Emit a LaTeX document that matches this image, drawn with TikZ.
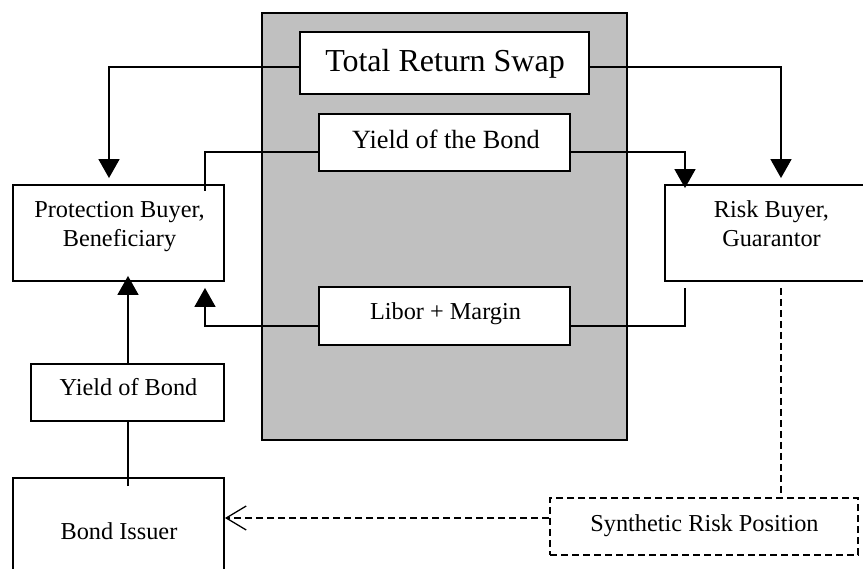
\documentclass[tikz,border=0pt]{standalone}
\usepackage{fontspec}
\setmainfont{Liberation Serif}
\usetikzlibrary{arrows.meta}
\definecolor{panelgray}{RGB}{192,192,192}
\begin{document}
\begin{tikzpicture}[x=1pt,y=-1pt,
  box/.style={draw=black, line width=1.9pt, fill=white, inner sep=0pt},
  lbl/.style={inner sep=0pt, anchor=base, font=\fontsize{24.3}{29}\selectfont},
  link/.style={line width=1.7pt},
  tip/.style={-{Triangle[width=21pt,length=19pt]}},
  dashlink/.style={line width=1.8pt, dash pattern=on 7pt off 4pt},
  barb/.style={-{Straight Barb[length=20pt,width=24pt,line width=1.3pt]}},
]
\useasboundingbox (0,0) rectangle (863,569);
\clip (0,0) rectangle (863,569);

% shaded panel holding the swap legs
\node[box, fill=panelgray, minimum width=365, minimum height=427] (panel) at (444.5,226.5) {};

% boxes
\node[box, minimum width=289, minimum height=62] (trs) at (444.5,63) {};
\node[box, minimum width=251, minimum height=57] (ytb) at (444.5,142.5) {};
\node[box, minimum width=251, minimum height=58] (lm)  at (444.5,316) {};
\node[box, minimum width=211, minimum height=96] (pb)  at (118.5,233) {};
\node[box, minimum width=220, minimum height=96] (rb)  at (775,233) {};
\node[box, minimum width=193, minimum height=57] (yb)  at (127.5,392.5) {};
\node[box, minimum width=211, minimum height=122] (bi) at (118.5,539) {};
\node[box, dashlink, minimum width=308, minimum height=57] (srp) at (704,526.5) {};

% labels
\node[lbl, font=\fontsize{32}{36}\selectfont] (trsT) at (445,72) {Total Return Swap};
\node[lbl, font=\fontsize{26.3}{30}\selectfont] (ytbT) at (446,149) {Yield of the Bond};
\node[lbl] (lmT)  at (445.5,320) {Libor + Margin};
\node[lbl] (pbT1) at (119.5,218) {Protection Buyer,};
\node[lbl] (pbT2) at (119.5,247) {Beneficiary};
\node[lbl] (rbT1) at (771.5,218) {Risk Buyer,};
\node[lbl] (rbT2) at (771.5,247) {Guarantor};
\node[lbl] (ybT)  at (128.5,396) {Yield of Bond};
\node[lbl] (biT)  at (119,539) {Bond Issuer};
\node[lbl] (srpT) at (704.5,531) {Synthetic Risk Position};

% vertical runs of the connectors
\coordinate (xl) at (109,0);
\coordinate (xr) at (781,0);
\coordinate (xa) at (205,0);
\coordinate (xb) at (685,0);
\coordinate (xc) at (128,0);
\coordinate (ys) at (0,518);

% swap legs
\draw[link,tip] ([yshift=-4pt]trs.west) -| ([yshift=6pt]pb.north -| xl);
\draw[link,tip] ([yshift=-4pt]trs.east) -| ([yshift=6pt]rb.north -| xr);
\draw[link] ([yshift=-9.5pt]ytb.west) -| ([yshift=-7pt]pb.north -| xa);
\draw[link,tip] ([yshift=-9.5pt]ytb.east) -| ([yshift=-4pt]rb.north -| xb);
\draw[link,tip] ([yshift=-10pt]lm.west) -| ([yshift=-6pt]pb.south -| xa);
\draw[link] ([yshift=-10pt]lm.east) -| ([yshift=-6pt]rb.south -| xb);

% bond cash flow
\draw[link,tip] (yb.north -| xc) -- ([yshift=6pt]pb.south -| xc);
\draw[link] ([yshift=-9pt]bi.north -| xc) -- (yb.south -| xc);

% synthetic position
\draw[dashlink] ([yshift=-6pt]rb.south -| xr) -- (srp.north -| xr);
\draw[dashlink,barb] (srp.west |- ys) -- (bi.east |- ys);
\end{tikzpicture}
\end{document}
